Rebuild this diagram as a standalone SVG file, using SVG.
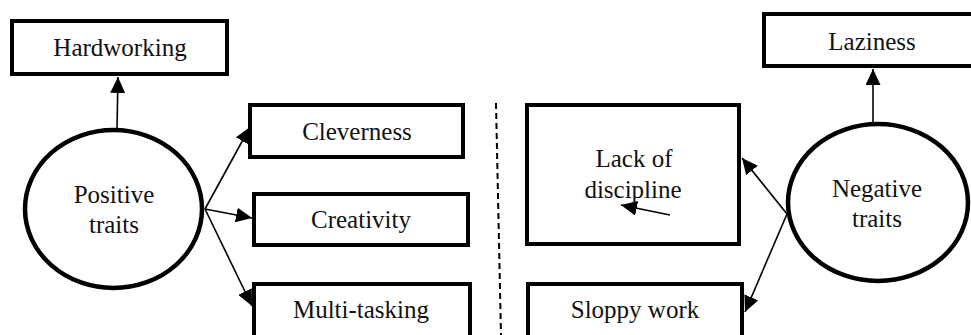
<svg xmlns="http://www.w3.org/2000/svg" width="971" height="335" viewBox="0 0 971 335">
<defs>
<marker id="ah" markerUnits="userSpaceOnUse" markerWidth="16" markerHeight="15" refX="16" refY="7.5" orient="auto">
<path d="M0,0 L16,7.5 L0,15 Z" fill="#000"/>
</marker>
</defs>
<rect width="971" height="335" fill="#fff"/>
<g id="connectors" stroke="#000" stroke-width="1.6" fill="none">
<line x1="117" y1="128" x2="118" y2="77" marker-end="url(#ah)"/>
<line x1="205" y1="209" x2="250" y2="127" marker-end="url(#ah)"/>
<line x1="205" y1="209" x2="252" y2="218" marker-end="url(#ah)"/>
<line x1="205" y1="209" x2="252" y2="306" marker-end="url(#ah)"/>
<line x1="873" y1="122" x2="873" y2="69" marker-end="url(#ah)"/>
<line x1="787" y1="214" x2="742" y2="158" marker-end="url(#ah)"/>
<line x1="787" y1="214" x2="745" y2="312" marker-end="url(#ah)"/>
<line x1="670" y1="215" x2="621" y2="205" marker-end="url(#ah)"/>
<line x1="496" y1="103" x2="501" y2="335" stroke-width="2" stroke-dasharray="6,4"/>
</g>
<g font-family="Liberation Serif" font-size="25" text-anchor="middle">
<g id="hardworking"><rect x="12" y="21" width="215" height="53" fill="none" stroke="#000" stroke-width="4"/><text x="120" y="56" fill="#111">Hardworking</text></g>
<g id="positive"><ellipse cx="113.5" cy="209" rx="88.5" ry="79" fill="#fff" stroke="#000" stroke-width="4.5"/><text x="114" y="203" fill="#111">Positive</text><text x="114" y="233" fill="#111">traits</text></g>
<g id="cleverness"><rect x="250" y="105" width="213" height="52" fill="#fff" stroke="#000" stroke-width="4"/><text x="357" y="140" fill="#111">Cleverness</text></g>
<g id="creativity"><rect x="254" y="194" width="214" height="51" fill="#fff" stroke="#000" stroke-width="4"/><text x="361" y="228" fill="#111">Creativity</text></g>
<g id="multitasking"><rect x="254" y="284" width="216" height="60" fill="#fff" stroke="#000" stroke-width="4"/><text x="361" y="318" fill="#111">Multi-tasking</text></g>
<g id="lack"><rect x="527" y="105" width="212" height="139" fill="none" stroke="#000" stroke-width="4"/><text x="634" y="167" fill="#111">Lack of</text><text x="633" y="198" fill="#111">discipline</text></g>
<g id="sloppy"><rect x="528" y="284" width="214" height="60" fill="#fff" stroke="#000" stroke-width="4"/><text x="635" y="318" fill="#111">Sloppy work</text></g>
<g id="laziness"><rect x="764" y="14" width="210" height="52" fill="#fff" stroke="#000" stroke-width="4"/><text x="872" y="50" fill="#111">Laziness</text></g>
<g id="negative"><ellipse cx="878" cy="202.5" rx="90" ry="78.5" fill="#fff" stroke="#000" stroke-width="4.5"/><text x="877" y="197" fill="#111">Negative</text><text x="877" y="227" fill="#111">traits</text></g>
</g>
</svg>
